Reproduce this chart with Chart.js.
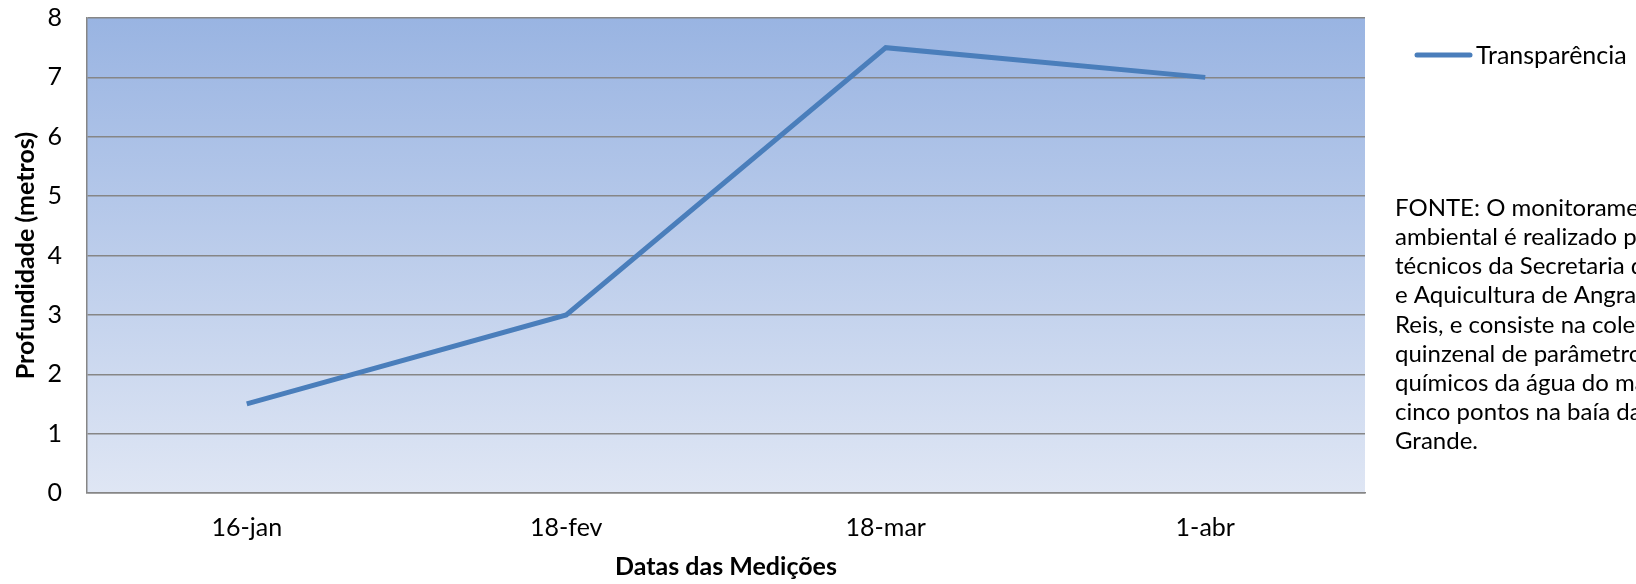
<!DOCTYPE html>
<html>
<head>
<meta charset="utf-8">
<script src="https://cdn.jsdelivr.net/npm/chart.js@4"></script>
<style>
  html, body { margin: 0; padding: 0; background: #fff; }
  #wrap { width: 1636px; height: 584px; }
</style>
</head>
<body>
<div id="wrap"><canvas id="chart" width="1636" height="584"></canvas></div>
<script>
const $ = (id) => document.getElementById(id);

const categories = ["16-jan", "18-fev", "18-mar", "1-abr"];
const transparencia = [1.5, 3, 7.5, 7];
const yTicks = [0, 1, 2, 3, 4, 5, 6, 7, 8];
const seriesName = "Transparência";
const noteLines = [
  "FONTE: O monitoramento",
  "ambiental é realizado por",
  "técnicos da Secretaria de Pesca",
  "e Aquicultura de Angra dos",
  "Reis, e consiste na coleta",
  "quinzenal de parâmetros físico-",
  "químicos da água do mar em",
  "cinco pontos na baía da Ilha",
  "Grande."
];

const FONT = "Lato, 'Open Sans', sans-serif";
const LINE = "#4A7EBB";

// plot background gradient
const bgPlugin = {
  id: "bg",
  beforeDraw(chart) {
    const { ctx, chartArea: a } = chart;
    const g = ctx.createLinearGradient(0, a.top, 0, a.bottom);
    g.addColorStop(0, "#99B4E2");
    g.addColorStop(1, "#DFE6F4");
    ctx.save();
    ctx.fillStyle = g;
    ctx.fillRect(a.left, a.top, a.right - a.left, a.bottom - a.top);
    ctx.restore();
  }
};

// legend + source note on the right
const sidePlugin = {
  id: "side",
  afterDraw(chart) {
    const ctx = chart.ctx;
    ctx.save();
    ctx.strokeStyle = LINE;
    ctx.lineWidth = 5;
    ctx.lineCap = "round";
    ctx.beginPath();
    ctx.moveTo(1417, 55);
    ctx.lineTo(1470, 55);
    ctx.stroke();
    ctx.fillStyle = "#000";
    ctx.textBaseline = "middle";
    ctx.font = "25px " + FONT;
    ctx.fillText(seriesName, 1476, 56);
    ctx.font = "24px " + FONT;
    noteLines.forEach((s, i) => ctx.fillText(s, 1395, 208 + i * 29.2));
    ctx.restore();
  }
};

new Chart($("chart"), {
  type: "line",
  data: {
    labels: categories,
    datasets: [{
      label: seriesName,
      data: transparencia,
      borderColor: LINE,
      borderWidth: 5,
      pointRadius: 0,
      tension: 0,
      fill: false
    }]
  },
  options: {
    responsive: false,
    animation: false,
    layout: { padding: { top: 0, right: 271, left: 0, bottom: 0 } },
    plugins: { legend: { display: false }, tooltip: { enabled: false } },
    scales: {
      x: {
        offset: true,
        grid: { display: false, drawTicks: false },
        border: { color: "#868686", width: 1.5 },
        ticks: { color: "#000", font: { family: FONT, size: 25 }, padding: 20 },
        title: {
          display: true, text: "Datas das Medições", color: "#000",
          font: { family: FONT, size: 25, weight: "bold" }, padding: { top: 0, bottom: 2 }
        },
        afterFit: (s) => { s.height = 91; }
      },
      y: {
        min: 0, max: 8,
        afterBuildTicks: (s) => { s.ticks = yTicks.map((v) => ({ value: v })); },
        grid: { color: "#868686", lineWidth: 1.5, drawTicks: false },
        border: { color: "#868686", width: 1.5 },
        ticks: { color: "#000", font: { family: FONT, size: 25 }, padding: 25 },
        title: {
          display: true, text: "Profundidade (metros)", color: "#000",
          font: { family: FONT, size: 25, weight: "bold" }, padding: { top: 11, bottom: 0 }
        },
        afterFit: (s) => { s.width = 87; s.paddingTop = 18; s.paddingBottom = 0; }
      }
    }
  },
  plugins: [bgPlugin, sidePlugin]
});
</script>
</body>
</html>
